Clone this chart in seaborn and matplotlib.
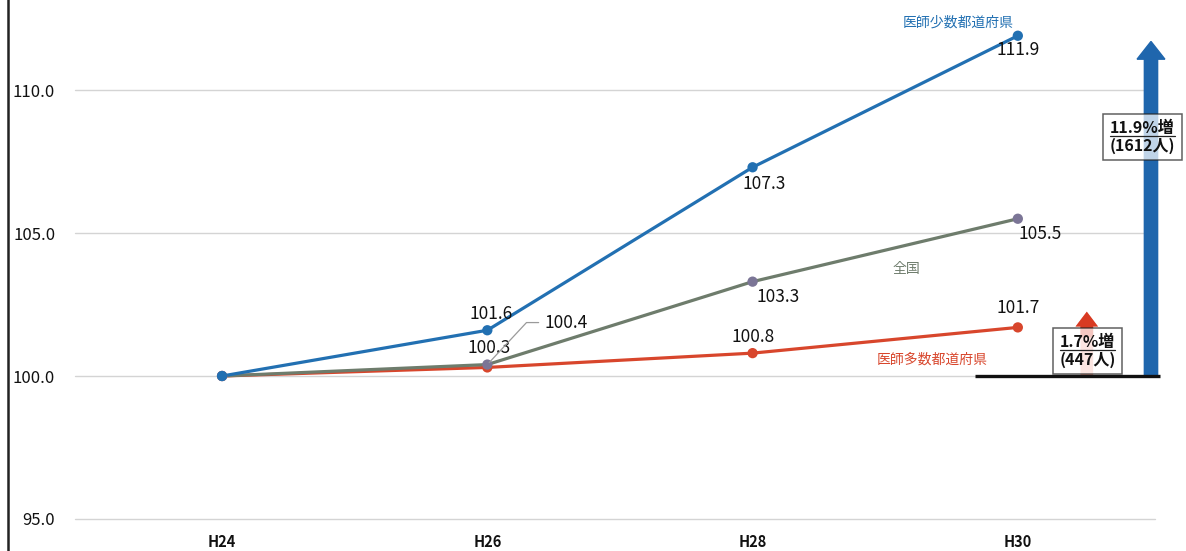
import matplotlib
matplotlib.use("Agg")
import matplotlib.pyplot as plt
import numpy as np
import pandas as pd
import seaborn as sns
from matplotlib.patches import FancyArrow
from matplotlib.lines import Line2D

# ---- data -------------------------------------------------------------
years = ["H24", "H26", "H28", "H30"]
few_pref = [100.0, 101.6, 107.3, 111.9]      # 医師少数都道府県
nationwide = [100.0, 100.4, 103.3, 105.5]    # 全国
many_pref = [100.0, 100.3, 100.8, 101.7]     # 医師多数都道府県
series_names = ["医師多数都道府県", "全国", "医師少数都道府県"]
y_ticks = [95.0, 100.0, 105.0, 110.0]
few_note = ["11.9%増", "(1612人)"]
many_note = ["1.7%増", "(447人)"]

# ---- styling ----------------------------------------------------------
sns.set_theme(style="white")
plt.rcParams["font.family"] = ["Noto Sans CJK JP", "DejaVu Sans"]

line_colors = {"医師多数都道府県": "#d8462c", "全国": "#6e7c6c", "医師少数都道府県": "#2270b2"}
marker_colors = {"医師多数都道府県": "#d8462c", "全国": "#7b7596", "医師少数都道府県": "#2270b2"}

idx = np.arange(len(years))
df = pd.DataFrame({
    "idx": np.concatenate([idx, idx, idx]),
    "value": many_pref + nationwide + few_pref,
    "series": np.repeat(series_names, len(years)),
})

fig = plt.figure(figsize=(11.86, 5.51), dpi=100)
ax = fig.add_axes([8 / 1186, 0, 1178 / 1186, 1])

sns.lineplot(data=df, x="idx", y="value", hue="series", hue_order=series_names,
             palette=line_colors, linewidth=2.3, legend=False, ax=ax, zorder=3)
sns.scatterplot(data=df, x="idx", y="value", hue="series", hue_order=series_names,
                palette=marker_colors, s=55, edgecolor="none", legend=False,
                ax=ax, zorder=4)

ax.set_xlim(-0.807, 3.634)
ax.set_ylim(93.88, 113.15)

# grid lines
for yv in y_ticks:
    ax.axhline(yv, xmin=0.057, xmax=0.974, color="#d4d4d4", lw=1.0, zorder=1)

# axes, ticks
for side in ["top", "right", "bottom"]:
    ax.spines[side].set_visible(False)
ax.spines["left"].set_color("#222222")
ax.spines["left"].set_linewidth(1.8)
ax.set_yticks(y_ticks)
ax.set_yticklabels([f"{v:.1f}" for v in y_ticks], fontsize=12, color="#111111")
ax.tick_params(axis="y", length=0, pad=-34)
ax.set_xticks(idx)
ax.set_xticklabels(years, fontsize=10.5, fontweight="bold", color="#111111")
ax.tick_params(axis="x", length=0, pad=-12)
ax.set_xlabel("")
ax.set_ylabel("")

# ---- value labels -----------------------------------------------------
px = 0.72  # pixel -> point
label_offsets = {
    "医師少数都道府県": [None, (4, 16), (12, -17), (0, -14)],
    "全国": [None, None, (26, -15), (22, -15)],
    "医師多数都道府県": [None, (2, 19), (0, 16), (0, 19)],
}
values = {"医師少数都道府県": few_pref, "全国": nationwide, "医師多数都道府県": many_pref}
for name, offs in label_offsets.items():
    for i, off in enumerate(offs):
        if off is None:
            continue
        ax.annotate(f"{values[name][i]:.1f}", (idx[i], values[name][i]),
                    xytext=(off[0] * px, off[1] * px), textcoords="offset points",
                    ha="center", va="center", fontsize=12.5, color="#111111", zorder=6)

# 全国 H26 label with elbow leader line
ax.annotate(f"{nationwide[1]:.1f}", (idx[1], nationwide[1]),
            xytext=(79 * px, 42 * px), textcoords="offset points",
            ha="center", va="center", fontsize=12.5, color="#111111", zorder=6,
            arrowprops=dict(arrowstyle="-", color="#9a9a9a", lw=0.9,
                            connectionstyle="angle,angleA=0,angleB=47,rad=0",
                            shrinkA=2, shrinkB=2))

# series name labels
name_offsets = {"医師少数都道府県": (-60, 13), "全国": (-111, -50), "医師多数都道府県": (-86, -32)}
for name, off in name_offsets.items():
    ax.annotate(name, (idx[-1], values[name][-1]),
                xytext=(off[0] * px, off[1] * px), textcoords="offset points",
                ha="center", va="center", fontsize=10, color=line_colors[name], zorder=6)

# ---- increase arrows --------------------------------------------------
base = many_pref[0]
ax.hlines(base, 2.838, 3.536, color="#111111", lw=2.4, zorder=5)

blue_x = 3.502
ax.add_patch(FancyArrow(blue_x, base, 0, few_pref[-1] - base - 0.2, width=0.05,
                        head_width=0.105, head_length=0.62, length_includes_head=True,
                        color="#1f66ad", zorder=4))
red_x = 3.260
red_top = many_pref[-1] + 0.55
ax.add_patch(FancyArrow(red_x, base, 0, red_top - base, width=0.048,
                        head_width=0.085, head_length=0.52, length_includes_head=True,
                        facecolor="#f2a596", edgecolor="none", zorder=4))
ax.add_patch(FancyArrow(red_x, red_top - 0.9, 0, 0.9, width=0.048,
                        head_width=0.085, head_length=0.52, length_includes_head=True,
                        facecolor="#d83a22", edgecolor="none", zorder=4))

# note boxes
notes = [(few_note, 3.470, 108.36), (many_note, 3.264, 100.88)]
text_objs = []
for lines, xn, yn in notes:
    t = ax.text(xn, yn, "\n".join(lines), ha="center", va="center", multialignment="center",
                fontsize=11.5, fontweight="bold", color="#111111", linespacing=1.15, zorder=7,
                bbox=dict(boxstyle="square,pad=0.4", facecolor="white", alpha=0.72,
                          edgecolor="#222222", linewidth=1.1))
    text_objs.append((t, lines))

# underline the first line of each note
fig.canvas.draw()
renderer = fig.canvas.get_renderer()
for t, lines in text_objs:
    bb = t.get_window_extent(renderer)
    first = ax.text(0, 0, lines[0], fontsize=11.5, fontweight="bold")
    w = first.get_window_extent(renderer).width
    first.remove()
    cx = (bb.x0 + bb.x1) / 2
    y_line = bb.y0 + bb.height * 0.5 + 1
    fig.add_artist(Line2D([(cx - w / 2) / fig.bbox.width, (cx + w / 2) / fig.bbox.width],
                          [y_line / fig.bbox.height] * 2, color="#222222", lw=0.9, zorder=8))

fig.savefig("out.png", dpi=100, facecolor="white")
